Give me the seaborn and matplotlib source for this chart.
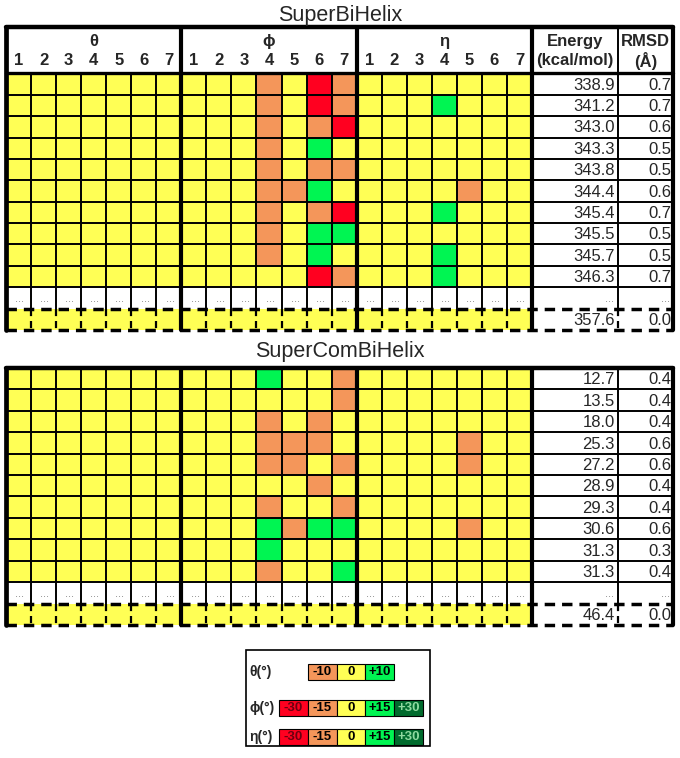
import numpy as np
import pandas as pd
import seaborn as sns
import matplotlib.pyplot as plt
from matplotlib.colors import ListedColormap
from matplotlib.patches import Rectangle

sns.set_style("white")
plt.rcParams['font.family'] = ['Liberation Sans', 'DejaVu Sans']

# deviations from reference structure (degrees), columns = helix 1..7
theta_bi = np.zeros((10, 7))
phi_bi = [[0, 0, 0, -15, 0, -30, -15],
          [0, 0, 0, -15, 0, -30, -15],
          [0, 0, 0, -15, 0, -15, -30],
          [0, 0, 0, -15, 0, 15, 0],
          [0, 0, 0, -15, 0, -15, -15],
          [0, 0, 0, -15, -15, 15, 0],
          [0, 0, 0, -15, 0, -15, -30],
          [0, 0, 0, -15, 0, 15, 15],
          [0, 0, 0, -15, 0, 15, 0],
          [0, 0, 0, 0, 0, -30, -15]]
eta_bi = [[0, 0, 0, 0, 0, 0, 0],
          [0, 0, 0, 15, 0, 0, 0],
          [0, 0, 0, 0, 0, 0, 0],
          [0, 0, 0, 0, 0, 0, 0],
          [0, 0, 0, 0, 0, 0, 0],
          [0, 0, 0, 0, -15, 0, 0],
          [0, 0, 0, 15, 0, 0, 0],
          [0, 0, 0, 0, 0, 0, 0],
          [0, 0, 0, 15, 0, 0, 0],
          [0, 0, 0, 15, 0, 0, 0]]
energy_bi = [338.9, 341.2, 343.0, 343.3, 343.8, 344.4, 345.4, 345.5, 345.7, 346.3]
rmsd_bi = [0.7, 0.7, 0.6, 0.5, 0.5, 0.6, 0.7, 0.5, 0.5, 0.7]
ref_bi = (357.6, 0.0)

theta_com = np.zeros((10, 7))
phi_com = [[0, 0, 0, 15, 0, 0, -15],
           [0, 0, 0, 0, 0, 0, -15],
           [0, 0, 0, -15, 0, -15, 0],
           [0, 0, 0, -15, -15, -15, 0],
           [0, 0, 0, -15, -15, 0, -15],
           [0, 0, 0, 0, 0, -15, 0],
           [0, 0, 0, -15, 0, 0, -15],
           [0, 0, 0, 15, -15, 15, 15],
           [0, 0, 0, 15, 0, 0, 0],
           [0, 0, 0, -15, 0, 0, 15]]
eta_com = [[0, 0, 0, 0, 0, 0, 0],
           [0, 0, 0, 0, 0, 0, 0],
           [0, 0, 0, 0, 0, 0, 0],
           [0, 0, 0, 0, -15, 0, 0],
           [0, 0, 0, 0, -15, 0, 0],
           [0, 0, 0, 0, 0, 0, 0],
           [0, 0, 0, 0, 0, 0, 0],
           [0, 0, 0, 0, -15, 0, 0],
           [0, 0, 0, 0, 0, 0, 0],
           [0, 0, 0, 0, 0, 0, 0]]
energy_com = [12.7, 13.5, 18.0, 25.3, 27.2, 28.9, 29.3, 30.6, 31.3, 31.3]
rmsd_com = [0.4, 0.4, 0.4, 0.6, 0.6, 0.4, 0.4, 0.6, 0.3, 0.4]
ref_com = (46.4, 0.0)

legend_theta = [-10, 0, 10]
legend_angle = [-30, -15, 0, 15, 30]

colors = ["#FF0020", "#F4965A", "#FFFF55", "#00F552", "#006B2D"]
text_colors = ["#6b0010", "black", "black", "black", "#8fd99f"]
cmap = ListedColormap(colors)

E_W, R_W = 3.43, 2.2
X_R = 21 + E_W
X_END = X_R + R_W
HDR = 2.17

fig = plt.figure(figsize=(6.8, 7.58), dpi=100)


def draw_table(ax, theta, phi, eta, energy, rmsd, ref, header):
    mat = np.hstack([np.array(theta) / 10, np.array(phi) / 15, np.array(eta) / 15])
    mat = np.vstack([mat, np.full((1, 21), np.nan), np.zeros((1, 21))])
    sns.heatmap(pd.DataFrame(mat), cmap=cmap, vmin=-2.5, vmax=2.5, cbar=False,
                xticklabels=False, yticklabels=False, linewidths=0, ax=ax)
    top = -HDR if header else 0
    ax.set_xlim(0, X_END)
    ax.set_ylim(12, top)
    ax.axis('off')

    kw = dict(color='black', clip_on=False)
    dash = (0, (3.0, 2.0))
    # horizontal lines
    for y in range(1, 11):
        ax.plot([0, X_END], [y, y], lw=1.4, **kw)
    ax.plot([0, X_END], [0, 0], lw=2.4 if header else 3.2, **kw)
    if header:
        ax.plot([0, X_END], [top, top], lw=3.2, **kw)
    for y in (11, 12):
        ax.plot([0, X_END], [y, y], lw=2.5, ls=dash, **kw)
    # vertical lines
    for x in list(range(1, 21)) + [X_R]:
        if x in (7, 14):
            continue
        y0 = top if x == X_R else 0
        ax.plot([x, x], [y0, 11], lw=1.4, **kw)
        ax.plot([x, x], [11, 12], lw=1.6, ls=(0, (3.2, 2.2)), **kw)
    for x in (0, 7, 14, 21, X_END):
        ax.plot([x, x], [top, 12], lw=3.4 if x == 0 else 3.0, **kw)

    # energy / rmsd values
    for i, (e, r) in enumerate(zip(energy, rmsd)):
        ax.text(X_R - 0.12, i + 0.55, f"{e:.1f}", ha='right', va='center', fontsize=12)
        ax.text(X_END - 0.08, i + 0.55, f"{r:.1f}", ha='right', va='center', fontsize=12)
    ax.text(X_R - 0.12, 11.55, f"{ref[0]:.1f}", ha='right', va='center', fontsize=12)
    ax.text(X_END - 0.08, 11.55, f"{ref[1]:.1f}", ha='right', va='center', fontsize=12)
    for c in range(21):
        ax.text(c + 0.55, 10.55, "...", ha='center', va='center', fontsize=8, color='0.5')
    ax.text(X_R - 0.15, 10.55, "...", ha='right', va='center', fontsize=8, color='0.5')
    ax.text(X_END - 0.1, 10.55, "...", ha='right', va='center', fontsize=8, color='0.5')

    if header:
        for k, name in enumerate(["θ", "ϕ", "η"]):
            ax.text(k * 7 + 3.5, -1.47, name, ha='center', va='center',
                    fontsize=12, fontweight='bold')
        for c in range(21):
            ax.text(c + 0.5, -0.6, str(c % 7 + 1), ha='center', va='center',
                    fontsize=12, fontweight='bold')
        ax.text((21 + X_R) / 2, -1.47, "Energy", ha='center', va='center',
                fontsize=12, fontweight='bold')
        ax.text((21 + X_R) / 2, -0.6, "(kcal/mol)", ha='center', va='center',
                fontsize=12, fontweight='bold')
        ax.text((X_R + X_END) / 2, -1.47, "RMSD", ha='center', va='center',
                fontsize=12, fontweight='bold')
        ax.text((X_R + X_END) / 2, -0.6, "(Å)", ha='center', va='center',
                fontsize=12, fontweight='bold')


H = 758
ax1 = fig.add_axes([6 / 680, 1 - 330 / H, 667 / 680, 303 / H])
draw_table(ax1, theta_bi, phi_bi, eta_bi, energy_bi, rmsd_bi, ref_bi, True)
ax2 = fig.add_axes([6 / 680, 1 - 625 / H, 667 / 680, 257 / H])
draw_table(ax2, theta_com, phi_com, eta_com, energy_com, rmsd_com, ref_com, False)

fig.text(340 / 680, 1 - 15 / H, "SuperBiHelix", ha='center', va='center', fontsize=15.5)
fig.text(340 / 680, 1 - 352 / H, "SuperComBiHelix", ha='center', va='center', fontsize=15.5)

# legend
lax = fig.add_axes([0, 0, 1, 1])
lax.set_xlim(0, 680)
lax.set_ylim(H, 0)
lax.axis('off')
lax.add_patch(Rectangle((246, 650), 184, 96, fill=False, lw=1.2, ec='black'))
x0, w, h = 279, 28.8, 16
rows = [("θ(°)", 672, legend_theta, 10, 1), ("ϕ(°)", 708, legend_angle, 15, 0),
        ("η(°)", 737, legend_angle, 15, 0)]
for label, yc, vals, step, offset in rows:
    lax.text(249, yc, label, ha='left', va='center', fontsize=10, fontweight='bold')
    for k, v in enumerate(vals):
        idx = int(v / step) + 2
        x = x0 + (k + offset) * w
        lax.add_patch(Rectangle((x, yc - h / 2), w, h, fc=colors[idx], ec='black', lw=0.8))
        txt = "0" if v == 0 else f"{v:+d}"
        lax.text(x + w / 2, yc, txt, ha='center', va='center', fontsize=9.5,
                 fontweight='bold', color=text_colors[idx])

fig.savefig("out.png", dpi=100)
